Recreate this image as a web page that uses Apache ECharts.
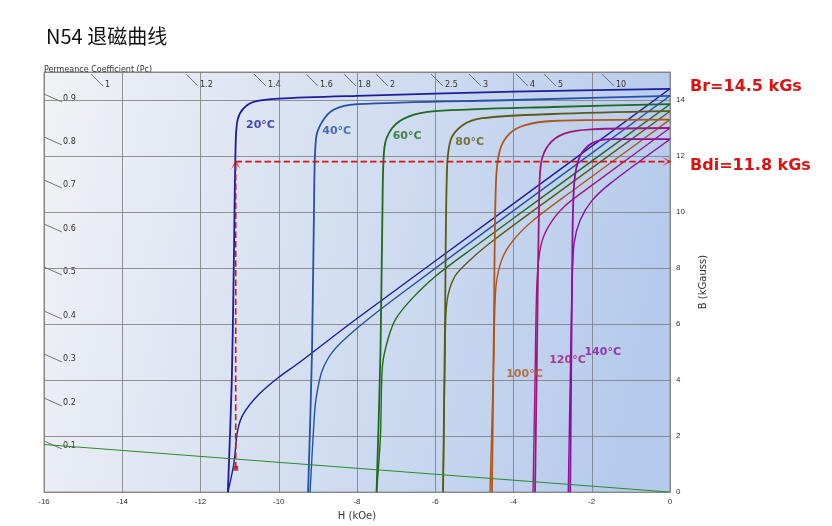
<!DOCTYPE html>
<html><head><meta charset="utf-8">
<script src="https://cdn.jsdelivr.net/npm/echarts@6/dist/echarts.min.js"></script>
<style>html,body{margin:0;background:#fff}#c{width:832px;height:526px}</style>
</head><body><div id="c"></div>
<script>
const temps = ['20°C','40°C','60°C','80°C','100°C','120°C','140°C'];
const colors = ['#1c1ca0','#2352a6','#1e6a1e','#5c5a12','#b0561a','#a0167c','#8c0fa0'];
const intrinsic = [
 [[0,14.4],[-4,14.3],[-8,14.15],[-10,14.05],[-10.6,13.95],[-10.9,13.7],[-11.05,13.3],[-11.1,12.5],[-11.15,8],[-11.2,4],[-11.3,0]],
 [[0,14.15],[-4,14.0],[-8,13.85],[-8.6,13.65],[-8.9,13.2],[-9.05,12.6],[-9.1,10],[-9.15,5],[-9.25,0]],
 [[0,13.85],[-3,13.75],[-6,13.6],[-6.7,13.4],[-7.1,13.0],[-7.3,12.3],[-7.35,10],[-7.4,5],[-7.5,0]],
 [[0,13.6],[-3,13.5],[-4.8,13.35],[-5.3,13.1],[-5.6,12.6],[-5.7,11.5],[-5.75,6],[-5.8,0]],
 [[0,13.3],[-3,13.25],[-3.7,13.1],[-4.1,12.8],[-4.35,12.2],[-4.45,11],[-4.5,6],[-4.55,0]],
 [[0,13.0],[-2,12.95],[-2.7,12.8],[-3.1,12.4],[-3.3,11.7],[-3.35,10],[-3.4,5],[-3.45,0]],
 [[0,12.6],[-1.5,12.6],[-2.0,12.45],[-2.3,12.0],[-2.45,11.0],[-2.5,8],[-2.55,0]]
];
const normal = [
 [[0,14.4],[-4,10.3],[-8,6.2],[-9.5,4.6],[-10,4.1],[-10.5,3.5],[-10.9,2.8],[-11.05,2.2],[-11.15,1.0],[-11.3,0]],
 [[0,14.15],[-4,10.05],[-7,6.95],[-8,5.85],[-8.6,5.05],[-8.9,4.3],[-9.05,3.3],[-9.1,2.5],[-9.2,0]],
 [[0,13.85],[-3,10.8],[-5,8.75],[-6,7.7],[-6.6,6.9],[-7.0,6.2],[-7.2,5.5],[-7.35,4.5],[-7.4,2],[-7.5,0]],
 [[0,13.6],[-3,10.55],[-4.5,9.0],[-5.1,8.3],[-5.5,7.7],[-5.7,6.8],[-5.75,5],[-5.8,0]],
 [[0,13.3],[-2.5,10.75],[-3.5,9.7],[-4.0,9.0],[-4.3,8.3],[-4.45,7.3],[-4.5,5],[-4.6,0]],
 [[0,13.0],[-2,10.95],[-2.7,10.2],[-3.1,9.5],[-3.3,8.8],[-3.4,7.5],[-3.45,4],[-3.5,0]],
 [[0,12.6],[-1.5,11.05],[-2.0,10.4],[-2.3,9.7],[-2.45,8.9],[-2.5,7.5],[-2.55,4],[-2.6,0]]
];
const labelPos = [[-10.85,13.1],[-8.9,12.9],[-7.1,12.7],[-5.5,12.5],[-4.2,4.2],[-3.1,4.7],[-2.2,5.0]];
const loadLine = [[-16,1.7],[0,0]];
const workPoint = [-11.1,0.85];
const bdi = 11.8;
const pcTop = ['1','1.2','1.4','1.6','1.8','2','2.5','3','4','5','10'];
const pcTopX = [105,200,268,320,358,390,445,483,530,558,616];
const pcLeft = ['0.9','0.8','0.7','0.6','0.5','0.4','0.3','0.2','0.1'];
const pcLeftY = [101,144,187,231,274,318,361,405,448];

const chart = echarts.init(document.getElementById('c'));
const series = [];
temps.forEach((t,i)=>{
  series.push({type:'line',data:intrinsic[i],symbol:'none',smooth:0.3,lineStyle:{color:colors[i],width:1.8},z:3});
  series.push({type:'line',data:normal[i],symbol:'none',smooth:0.3,lineStyle:{color:colors[i],width:1.4},z:3});
  series.push({type:'scatter',data:[labelPos[i]],symbolSize:1,itemStyle:{color:'rgba(0,0,0,0)'},
    label:{show:true,position:'right',distance:0,formatter:t,color:colors[i],fontWeight:'bold',fontSize:11,fontFamily:'DejaVu Sans'},z:5});
});
series.push({type:'line',data:loadLine,symbol:'none',lineStyle:{color:'#2a8a2a',width:1}});
const red = '#e01010';
series.push({type:'line',data:[[workPoint[0],workPoint[1]],[workPoint[0],bdi]],symbol:'none',lineStyle:{color:red,type:'dashed',width:1.6},z:6,
  markPoint:{symbol:'none',data:[]}});
series.push({type:'line',data:[[workPoint[0],bdi],[0,bdi]],symbol:'none',lineStyle:{color:red,type:'dashed',width:1.6},z:6});
series.push({type:'scatter',data:[[workPoint[0],bdi]],symbol:'path://M0,10L5,0L10,10L5,4Z',symbolSize:[9,9],symbolOffset:[0,3],itemStyle:{color:red},z:7});
series.push({type:'scatter',data:[[0,bdi]],symbol:'path://M0,10L5,0L10,10L5,4Z',symbolRotate:-90,symbolSize:[9,9],symbolOffset:[-3,0],itemStyle:{color:red},z:7});
series.push({type:'scatter',data:[workPoint],symbol:'rect',symbolSize:5,itemStyle:{color:'#c01010'},z:7});

const g = [
 {type:'text',left:46,top:26,style:{text:'N54 退磁曲线',font:'20px "Noto Sans CJK SC"',fill:'#111'}},
 {type:'text',left:44,top:66,style:{text:'Permeance Coefficient (Pc)',font:'8px "DejaVu Sans"',fill:'#333'}},
 {type:'text',left:690,top:79,style:{text:'Br=14.5 kGs',font:'bold 16px "DejaVu Sans"',fill:red}},
 {type:'text',left:690,top:158,style:{text:'Bdi=11.8 kGs',font:'bold 16px "DejaVu Sans"',fill:red}}
];
pcTop.forEach((t,i)=>{
  g.push({type:'line',shape:{x1:pcTopX[i]-14,y1:74,x2:pcTopX[i]-2,y2:86},style:{stroke:'#555',lineWidth:0.8}});
  g.push({type:'text',left:pcTopX[i],top:81,style:{text:t,font:'8px "DejaVu Sans"',fill:'#333'}});
});
pcLeft.forEach((t,i)=>{
  g.push({type:'line',shape:{x1:44,y1:pcLeftY[i]-7,x2:62,y2:pcLeftY[i]+1},style:{stroke:'#555',lineWidth:0.8}});
  g.push({type:'text',left:63,top:pcLeftY[i]-6,style:{text:t,font:'8px "DejaVu Sans"',fill:'#333'}});
});

chart.setOption({
  animation:false,
  grid:{left:44,right:162,top:72,bottom:33,show:true,borderColor:'#888',borderWidth:1,
    backgroundColor:new echarts.graphic.LinearGradient(0,0,1,0.3,[{offset:0,color:'#f1f2f5'},{offset:1,color:'#b6cbec'}])},
  xAxis:{type:'value',min:-16,max:0,interval:2,name:'H (kOe)',nameLocation:'middle',nameGap:18,
    nameTextStyle:{fontSize:10,color:'#333',fontFamily:'DejaVu Sans'},
    axisLabel:{fontSize:8,color:'#333',margin:6},axisLine:{lineStyle:{color:'#888'}},axisTick:{show:false},
    splitLine:{lineStyle:{color:'#7a7a7a',width:0.8}}},
  yAxis:{type:'value',position:'right',min:0,max:15,interval:2,name:'B (kGauss)',nameLocation:'middle',nameGap:28,nameRotate:90,
    nameTextStyle:{fontSize:10,color:'#333',fontFamily:'DejaVu Sans'},
    axisLabel:{fontSize:8,color:'#333',margin:6,showMaxLabel:false},axisLine:{show:true,lineStyle:{color:'#888'}},axisTick:{show:false},
    splitLine:{lineStyle:{color:'#7a7a7a',width:0.8}}},
  graphic:g,
  series:series
});
</script></body></html>
